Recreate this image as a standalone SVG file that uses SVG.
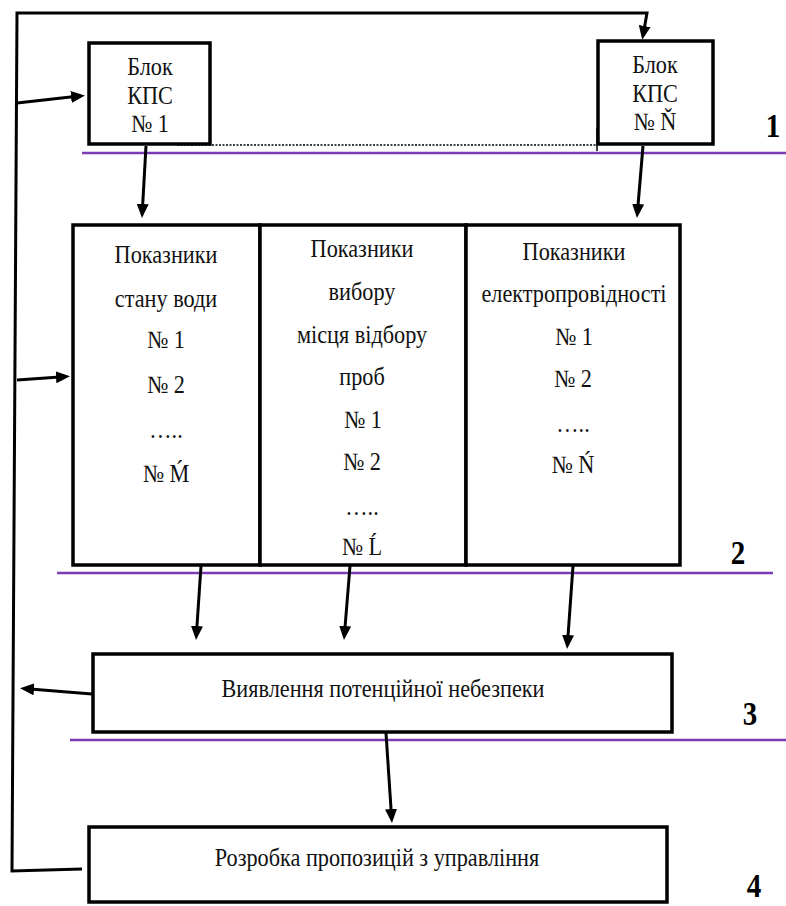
<svg xmlns="http://www.w3.org/2000/svg" width="786" height="906" viewBox="0 0 786 906">
  <style>
    .box { fill: #ffffff; stroke: #000000; stroke-width: 3.5; }
    .conn { fill: none; stroke: #000000; stroke-width: 3; }
    .level { stroke: #7b3bb5; stroke-width: 2.5; }
    .dots { stroke: #000000; stroke-width: 1.6; stroke-dasharray: 2 1.5; }
    .t { font-size: 25px; fill: #111111; text-anchor: middle; }
    .num { font-weight: bold; font-size: 33px; fill: #000000; text-anchor: middle; }
  </style>
  <defs>
    <marker id="arrow" viewBox="0 0 14 12" refX="4" refY="6" markerWidth="14" markerHeight="12" markerUnits="userSpaceOnUse" orient="auto">
      <path d="M0,0 L14,6 L0,12 z" fill="#000000"/>
    </marker>
  </defs>

  <!-- level separators -->
  <g id="levels">
    <line class="level" x1="82" y1="153" x2="786" y2="153"/>
    <line class="level" x1="57" y1="573" x2="773" y2="573"/>
    <line class="level" x1="70" y1="740" x2="786" y2="740"/>
    <line class="dots" x1="177" y1="145" x2="596" y2="145"/>
    <line x1="597" y1="128" x2="597" y2="151" stroke="#000000" stroke-width="1.5"/>
  </g>

  <g font-family="Liberation Serif, DejaVu Serif, serif">
  <!-- level numbers -->
  <g id="level-numbers">
    <text class="num" transform="translate(773,137) scale(0.88,1)">1</text>
    <text class="num" transform="translate(738,564) scale(0.88,1)">2</text>
    <text class="num" transform="translate(750,725) scale(0.88,1)">3</text>
    <text class="num" transform="translate(754,897) scale(0.88,1)">4</text>
  </g>

  <g id="block-kps-1">
    <rect class="box" x="89" y="43" width="121" height="101"/>
    <text class="t" transform="translate(150,75) scale(0.89,1)">Блок</text>
    <text class="t" transform="translate(150,104) scale(0.89,1)">КПС</text>
    <text class="t" transform="translate(150,132) scale(0.89,1)">№ 1</text>
  </g>

  <g id="block-kps-n">
    <rect class="box" x="598" y="41" width="115" height="103"/>
    <text class="t" transform="translate(655,73) scale(0.89,1)">Блок</text>
    <text class="t" transform="translate(655,102) scale(0.89,1)">КПС</text>
    <text class="t" transform="translate(655,130) scale(0.89,1)">№ Ň</text>
  </g>

  <g id="water-state">
    <rect class="box" x="73" y="225" width="187" height="340"/>
    <text class="t" transform="translate(166,263) scale(0.89,1)">Показники</text>
    <text class="t" transform="translate(166,307) scale(0.89,1)">стану води</text>
    <text class="t" transform="translate(166,348) scale(0.89,1)">№ 1</text>
    <text class="t" transform="translate(166,393) scale(0.89,1)">№ 2</text>
    <text class="t" transform="translate(166,438) scale(0.89,1)">…..</text>
    <text class="t" transform="translate(166,482) scale(0.89,1)">№ Ḿ</text>
  </g>

  <g id="sampling-site">
    <rect class="box" x="260" y="225" width="206" height="340"/>
    <text class="t" transform="translate(362,257) scale(0.89,1)">Показники</text>
    <text class="t" transform="translate(362,300) scale(0.89,1)">вибору</text>
    <text class="t" transform="translate(362,343) scale(0.89,1)">місця відбору</text>
    <text class="t" transform="translate(362,385) scale(0.89,1)">проб</text>
    <text class="t" transform="translate(363,428) scale(0.89,1)">№ 1</text>
    <text class="t" transform="translate(362,470) scale(0.89,1)">№ 2</text>
    <text class="t" transform="translate(362,515) scale(0.89,1)">…..</text>
    <text class="t" transform="translate(362,555) scale(0.89,1)">№ Ĺ</text>
  </g>

  <g id="conductivity">
    <rect class="box" x="466" y="225" width="214" height="340"/>
    <text class="t" transform="translate(574,260) scale(0.89,1)">Показники</text>
    <text class="t" transform="translate(574,302) scale(0.89,1)">електропровідності</text>
    <text class="t" transform="translate(574,345) scale(0.89,1)">№ 1</text>
    <text class="t" transform="translate(573,387) scale(0.89,1)">№ 2</text>
    <text class="t" transform="translate(573,432) scale(0.89,1)">…..</text>
    <text class="t" transform="translate(573,473) scale(0.89,1)">№ Ń</text>
  </g>

  <g id="hazard-detection">
    <rect class="box" x="93" y="654" width="579" height="78"/>
    <text class="t" transform="translate(383,697) scale(0.89,1)">Виявлення потенційної небезпеки</text>
  </g>

  <g id="management-proposals">
    <rect class="box" x="89" y="827" width="578" height="75"/>
    <text class="t" transform="translate(377,866) scale(0.89,1)">Розробка пропозицій з управління</text>
  </g>
  </g>

  <g id="connectors">
    <!-- feedback loop around the left side -->
    <path class="conn" d="M82,869 L12,871 L17,13 L647,13 L644,30" marker-end="url(#arrow)"/>
    <line class="conn" x1="17" y1="103" x2="75" y2="96.5" marker-end="url(#arrow)"/>
    <line class="conn" x1="17" y1="380" x2="60" y2="377" marker-end="url(#arrow)"/>
    <line class="conn" x1="92" y1="694" x2="30" y2="689" marker-end="url(#arrow)"/>
    <!-- blocks to indicator columns -->
    <line class="conn" x1="146" y1="146" x2="142.5" y2="208" marker-end="url(#arrow)"/>
    <line class="conn" x1="643" y1="146" x2="637.8" y2="208" marker-end="url(#arrow)"/>
    <!-- indicator columns to hazard detection -->
    <line class="conn" x1="201" y1="566" x2="196.7" y2="630" marker-end="url(#arrow)"/>
    <line class="conn" x1="350" y1="566" x2="344.8" y2="630" marker-end="url(#arrow)"/>
    <line class="conn" x1="573" y1="566" x2="567.8" y2="639" marker-end="url(#arrow)"/>
    <!-- hazard detection to proposals -->
    <line class="conn" x1="386" y1="733" x2="391.3" y2="813" marker-end="url(#arrow)"/>
  </g>
</svg>
